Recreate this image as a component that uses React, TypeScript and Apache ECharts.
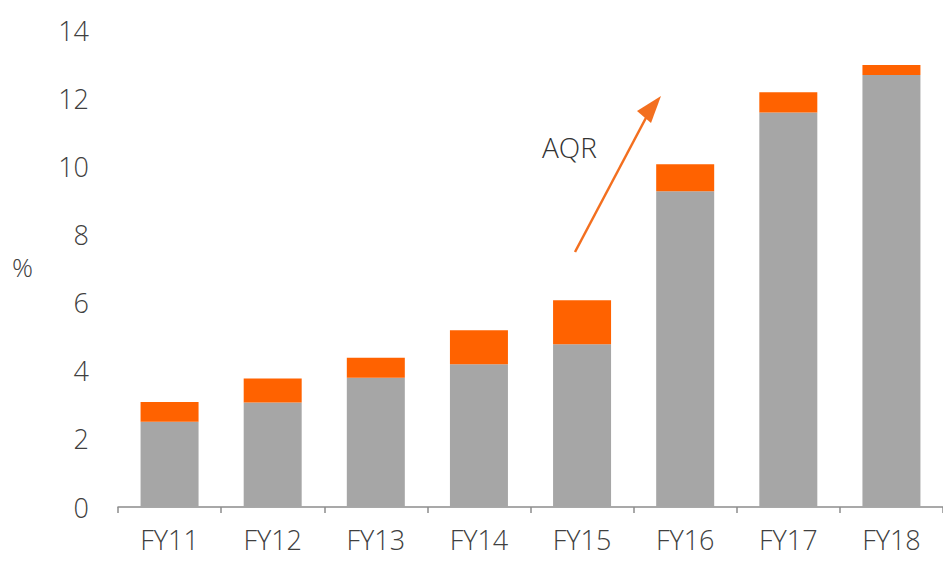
import React, { useEffect, useRef } from "react";
import * as echarts from "echarts";

const categories = ["FY11", "FY12", "FY13", "FY14", "FY15", "FY16", "FY17", "FY18"];
const baseValues = [2.5, 3.07, 3.79, 4.19, 4.78, 9.27, 11.58, 12.68];
const aqrValues = [0.58, 0.7, 0.59, 1.0, 1.29, 0.79, 0.59, 0.29];
const yTicks = { min: 0, max: 14, interval: 2 };

export default function App() {
  const ref = useRef<HTMLDivElement>(null);
  useEffect(() => {
    if (!ref.current) return;
    const chart = echarts.init(ref.current, null, { renderer: "svg" });
    const font = "'Open Sans', 'DejaVu Sans', sans-serif";
    chart.setOption({
      animation: false,
      backgroundColor: "#ffffff",
      grid: { left: 118, top: 30, width: 830, height: 477 },
      xAxis: {
        type: "category",
        data: categories,
        axisLine: { show: true, lineStyle: { color: "#8c8c8c", width: 1.5 } },
        axisTick: { show: true, length: 6, lineStyle: { color: "#8c8c8c", width: 1.5 } },
        axisLabel: { color: "#404040", fontSize: 27, fontWeight: 300, fontFamily: font, margin: 19 },
      },
      yAxis: {
        type: "value",
        min: yTicks.min,
        max: yTicks.max,
        interval: yTicks.interval,
        axisLine: { show: false },
        axisTick: { show: false },
        splitLine: { show: false },
        axisLabel: { color: "#404040", fontSize: 27, fontWeight: 300, fontFamily: font, margin: 29 },
      },
      series: [
        {
          type: "bar",
          stack: "total",
          data: baseValues,
          barWidth: 58,
          itemStyle: { color: "#a6a6a6" },
        },
        {
          type: "bar",
          stack: "total",
          data: aqrValues,
          barWidth: 58,
          itemStyle: { color: "#ff6200" },
        },
      ],
      graphic: [
        {
          type: "text",
          left: 12,
          top: 254,
          style: { text: "%", fontSize: 26, fontWeight: 300, fontFamily: font, fill: "#404040" },
        },
        {
          type: "text",
          x: 542,
          y: 133,
          style: { text: "AQR", fontSize: 28, fontWeight: 300, fontFamily: font, fill: "#333333" },
        },
        {
          type: "line",
          shape: { x1: 575, y1: 252, x2: 648, y2: 114 },
          style: { stroke: "#f36f1f", lineWidth: 2.5 },
        },
        {
          type: "polygon",
          shape: { points: [[661, 96], [637, 111], [651, 123]] },
          style: { fill: "#f36f1f" },
        },
      ],
    });
    return () => chart.dispose();
  }, []);
  return (
    <div
      ref={ref}
      style={{ position: "absolute", left: 0, top: 0, width: 943, height: 563 }}
    />
  );
}
